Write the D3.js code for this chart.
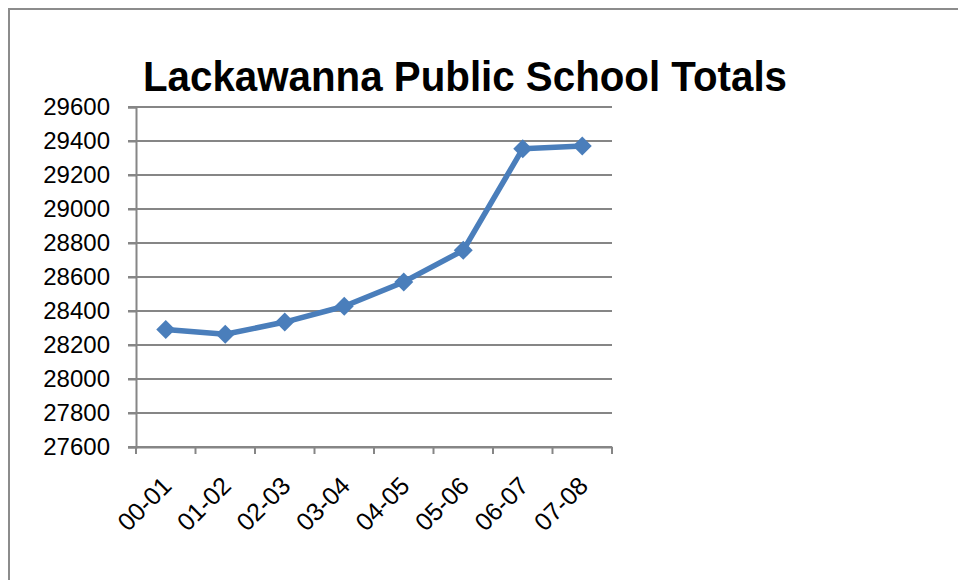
<!DOCTYPE html>
<html>
<head>
<meta charset="utf-8">
<script src="https://cdn.jsdelivr.net/npm/d3@7"></script>
<style>
  body { margin: 0; background: #fff; }
  text { font-family: "Liberation Sans", Arial, sans-serif; fill: #000; }
</style>
</head>
<body>
<div id="chart"></div>
<script>
var width = 958
var height = 580

var years = ["00-01", "01-02", "02-03", "03-04", "04-05", "05-06", "06-07", "07-08"];
var totals = [28291, 28263, 28335, 28428, 28571, 28757, 29355, 29371];
var yTicks = [27600, 27800, 28000, 28200, 28400, 28600, 28800, 29000, 29200, 29400, 29600];

var plot = {left: 136, right: 612, top: 107, bottom: 447};
var gridColor = "#868686";
var lineColor = "#4a7ebb";

var svg = d3.select("#chart").append("svg")
    .attr("width", width)
    .attr("height", height);

// outer chart border (only top and left visible)
svg.append("path")
    .attr("d", "M9,580 V9 H958")
    .attr("fill", "none")
    .attr("stroke", "#8c8c8c")
    .attr("stroke-width", 2);

var x = d3.scaleBand()
    .domain(years)
    .range([plot.left, plot.right]);

var y = d3.scaleLinear()
    .domain([27600, 29600])
    .range([plot.bottom, plot.top]);

// gridlines
svg.append("g")
    .selectAll("line")
    .data(yTicks)
    .enter().append("line")
    .attr("x1", plot.left - 8)
    .attr("x2", plot.right)
    .attr("y1", function(d) { return y(d); })
    .attr("y2", function(d) { return y(d); })
    .attr("stroke", gridColor)
    .attr("stroke-width", 2);

// y axis
var yAxis = svg.append("g")
    .attr("transform", "translate(" + plot.left + ",0)")
    .call(d3.axisLeft(y).tickValues(yTicks).tickSize(8).tickPadding(18).tickFormat(d3.format("d")));
yAxis.select(".domain").attr("stroke", gridColor).attr("stroke-width", 2);
yAxis.selectAll(".tick line").attr("stroke", gridColor).attr("stroke-width", 2);
yAxis.selectAll("text")
    .style("font-size", "24px")
    .style("font-family", "'Liberation Sans', Arial, sans-serif")
    .attr("fill", "#000");

// x axis
var xAxis = svg.append("g")
    .attr("transform", "translate(0," + plot.bottom + ")")
    .call(d3.axisBottom(x).tickSize(0).tickFormat(""));
xAxis.select(".domain").attr("stroke", gridColor).attr("stroke-width", 2);
xAxis.selectAll(".tick").remove();

// category boundary ticks
var bounds = years.map(function(d) { return x(d); }).concat([x.range()[1]]);
svg.append("g")
    .selectAll("line")
    .data(bounds)
    .enter().append("line")
    .attr("x1", function(d) { return d; })
    .attr("x2", function(d) { return d; })
    .attr("y1", plot.bottom)
    .attr("y2", plot.bottom + 7)
    .attr("stroke", gridColor)
    .attr("stroke-width", 2);

// rotated category labels
svg.append("g")
    .selectAll("text")
    .data(years)
    .enter().append("text")
    .attr("transform", function(d) {
      return "translate(" + (x(d) + x.bandwidth() / 2 - 5) + "," + (plot.bottom + 28) + ") rotate(-45)";
    })
    .attr("text-anchor", "end")
    .attr("dy", "0.7em")
    .style("font-size", "25px")
    .text(function(d) { return d; });

// line
var line = d3.line()
    .x(function(d, i) { return x(years[i]) + x.bandwidth() / 2; })
    .y(function(d) { return y(d); });

svg.append("path")
    .datum(totals)
    .attr("d", line)
    .attr("fill", "none")
    .attr("stroke", lineColor)
    .attr("stroke-width", 5.5)
    .attr("stroke-linejoin", "round");

// diamond markers
svg.append("g")
    .selectAll("path")
    .data(totals)
    .enter().append("path")
    .attr("transform", function(d, i) {
      return "translate(" + (x(years[i]) + x.bandwidth() / 2) + "," + y(d) + ")";
    })
    .attr("d", d3.symbol().type(d3.symbolDiamond2).size(230))
    .attr("fill", lineColor);

// title
svg.append("text")
    .attr("x", 465)
    .attr("y", 91)
    .attr("text-anchor", "middle")
    .attr("textLength", 644)
    .attr("lengthAdjust", "spacingAndGlyphs")
    .style("font-size", "42px")
    .style("font-weight", "bold")
    .text("Lackawanna Public School Totals");
</script>
</body>
</html>
